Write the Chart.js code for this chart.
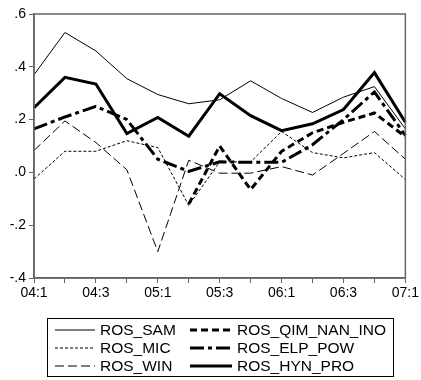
<!DOCTYPE html>
<html>
<head>
<meta charset="utf-8">
<script src="https://cdn.jsdelivr.net/npm/chart.js@4/dist/chart.umd.min.js"></script>
<style>
  html, body { margin: 0; padding: 0; background: #fff; }
  #wrap { width: 421px; height: 380px; }
</style>
</head>
<body>
<div id="wrap"><canvas id="rosChart" width="421" height="380"></canvas></div>
<script>
// quarters 2004Q1 .. 2007Q1
const quarters = ['04:1', '04:2', '04:3', '04:4', '05:1', '05:2', '05:3', '05:4', '06:1', '06:2', '06:3', '06:4', '07:1'];

const rosSam = [0.37, 0.53, 0.46, 0.355, 0.295, 0.26, 0.275, 0.347, 0.28, 0.227, 0.285, 0.325, 0.165];
const rosMic = [-0.025, 0.08, 0.08, 0.12, 0.094, -0.125, 0.04, 0.04, 0.155, 0.075, 0.055, 0.075, -0.027];
const rosWin = [0.083, 0.195, 0.113, 0.01, -0.3, 0.046, -0.003, -0.003, 0.022, -0.01, 0.072, 0.155, 0.05];
const rosQimNanIno = [null, null, null, null, null, -0.12, 0.1, -0.065, 0.08, 0.15, 0.19, 0.225, 0.135];
const rosElpPow = [0.165, 0.21, 0.25, 0.2, 0.05, 0.004, 0.04, 0.038, 0.038, 0.105, 0.2, 0.305, 0.14];
const rosHynPro = [0.245, 0.36, 0.335, 0.147, 0.208, 0.137, 0.298, 0.215, 0.158, 0.184, 0.238, 0.378, 0.19];

const FONT = '"Liberation Sans", Arial, sans-serif';

function series(label, data, width, dash) {
    return {
        label: label,
        data: data,
        borderColor: '#000',
        borderWidth: width,
        borderDash: dash,
        pointRadius: 0,
        tension: 0,
        fill: false,
        spanGaps: false
    };
}

// box round the plot and the two-column legend below it
const framePlugin = {
    id: 'frame',
    afterDraw(chart) {
        const { ctx, chartArea } = chart;
        ctx.save();
        ctx.strokeStyle = '#666';
        ctx.lineWidth = 1.5;
        ctx.strokeRect(chartArea.left, chartArea.top, chartArea.right - chartArea.left, chartArea.bottom - chartArea.top);

        // legend
        ctx.strokeStyle = '#000';
        ctx.lineWidth = 1;
        ctx.strokeRect(47.5, 318.5, 346, 58);
        const rows = [330, 348, 366];
        const cols = [{ x0: 55, x1: 95 }, { x0: 190, x1: 232 }];
        ctx.font = '15.5px ' + FONT;
        ctx.textBaseline = 'middle';
        ctx.fillStyle = '#000';
        chart.data.datasets.forEach((ds, i) => {
            const col = cols[i < 3 ? 0 : 1];
            const y = rows[i % 3];
            ctx.beginPath();
            ctx.setLineDash(ds.borderDash || []);
            ctx.lineWidth = ds.borderWidth;
            ctx.moveTo(col.x0, y);
            ctx.lineTo(col.x1, y);
            ctx.stroke();
            ctx.setLineDash([]);
            ctx.fillText(ds.label, col.x1 + 5, y + 1);
        });
        ctx.restore();
    }
};

const rosConfig = {
    type: 'line',
    data: {
        labels: quarters,
        datasets: [
            series('ROS_SAM', rosSam, 1, []),
            series('ROS_MIC', rosMic, 1, [3, 2]),
            series('ROS_WIN', rosWin, 1, [9, 4]),
            series('ROS_QIM_NAN_INO', rosQimNanIno, 3, [7, 4]),
            series('ROS_ELP_POW', rosElpPow, 3, [14, 4, 4, 4]),
            series('ROS_HYN_PRO', rosHynPro, 3, [])
        ]
    },
    options: {
        responsive: false,
        animation: false,
        layout: {
            padding: { top: 14, right: 15, bottom: 78, left: 0 }
        },
        plugins: {
            legend: { display: false },
            tooltip: { enabled: false }
        },
        scales: {
            x: {
                offset: false,
                afterFit(scale) { scale.height = 24; },
                grid: { drawOnChartArea: false, tickLength: 5, color: '#666' },
                border: { color: '#666', width: 1.5 },
                ticks: {
                    autoSkip: false,
                    maxRotation: 0,
                    padding: 2,
                    color: '#000',
                    font: { family: FONT, size: 14 },
                    callback: (v, i) => (i % 2 === 0 ? quarters[i] : '')
                }
            },
            y: {
                min: -0.4,
                max: 0.6,
                afterFit(scale) { scale.width = 34; },
                grid: { drawOnChartArea: false, tickLength: 5, color: '#666' },
                border: { color: '#666', width: 1.5 },
                ticks: {
                    stepSize: 0.2,
                    padding: 3,
                    color: '#000',
                    font: { family: FONT, size: 14 },
                    callback: (v) => {
                        if (Math.abs(v) < 1e-9) return '.0';
                        return v.toFixed(1).replace('0.', '.');
                    }
                }
            }
        }
    },
    plugins: [framePlugin]
};

const rosChart = new Chart(document.getElementById('rosChart'), rosConfig);
</script>
</body>
</html>
